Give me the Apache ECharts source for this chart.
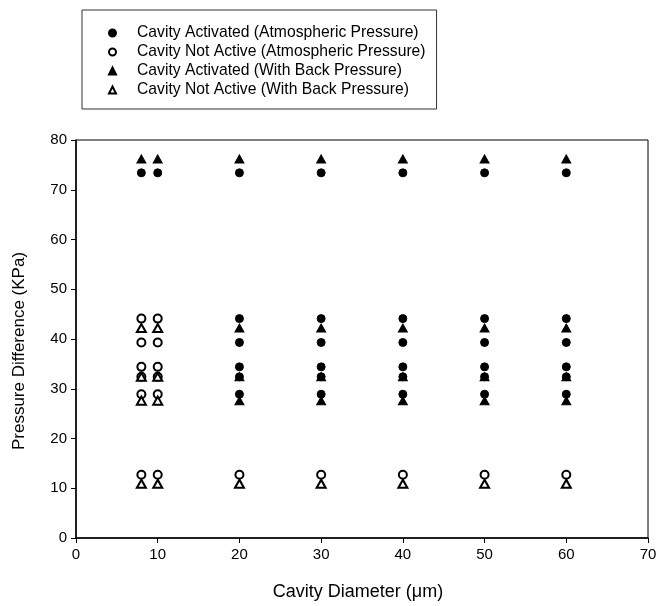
<!DOCTYPE html>
<html><head><meta charset="utf-8">
<script src="https://cdn.jsdelivr.net/npm/echarts@6/dist/echarts.min.js"></script>
<style>html,body{margin:0;padding:0;background:#fff}#c{width:666px;height:606px}</style>
</head><body><div id="c"></div>
<script>
// Data
const diametersNarrow = [8, 10];
const diametersWide = [20, 30, 40, 50, 60];
const activatedAtmNarrow = [73.4];
const activatedAtmWide = [73.4, 44.1, 39.3, 34.4, 32.4, 28.9];
const notActiveAtmNarrow = [44.1, 39.3, 34.4, 32.4, 28.9, 12.7];
const notActiveAtmWide = [12.7];
const activatedBackNarrow = [76.2];
const activatedBackWide = [76.2, 42.2, 32.4, 27.6];
const notActiveBackNarrow = [42.2, 32.4, 27.6, 10.9];
const notActiveBackWide = [10.9];
const seriesNames = [
  'Cavity Activated (Atmospheric Pressure)',
  'Cavity Not Active (Atmospheric Pressure)',
  'Cavity Activated (With Back Pressure)',
  'Cavity Not Active (With Back Pressure)'
];
const xTicks = [0, 10, 20, 30, 40, 50, 60, 70];
const yTicks = [0, 10, 20, 30, 40, 50, 60, 70, 80];

function pts(groups) {
  const out = [];
  groups.forEach(([xs, ys]) => xs.forEach(x => ys.forEach(y => out.push([x, y]))));
  return out;
}
const FONT = 'Liberation Sans, Arial, sans-serif';
const chart = echarts.init(document.getElementById('c'));
const symbols = ['circle', 'emptyCircle', 'triangle', 'emptyTriangle'];
const dataSets = [
  pts([[diametersNarrow, activatedAtmNarrow], [diametersWide, activatedAtmWide]]),
  pts([[diametersNarrow, notActiveAtmNarrow], [diametersWide, notActiveAtmWide]]),
  pts([[diametersNarrow, activatedBackNarrow], [diametersWide, activatedBackWide]]),
  pts([[diametersNarrow, notActiveBackNarrow], [diametersWide, notActiveBackWide]])
];
chart.setOption({
  animation: false,
  backgroundColor: '#fff',
  legend: {
    orient: 'vertical', left: 82, top: 10,
    padding: [15, 11, 11, 26],
    borderColor: '#333', borderWidth: 1,
    itemWidth: 7, itemHeight: 7, itemGap: 3,
    textStyle: { fontFamily: FONT, fontSize: 15.7, color: '#000', padding: [0, 0, 0, 16], lineHeight: 16 },
    data: seriesNames.map((n, i) => ({ name: n, icon: symbols[i] }))
  },
  grid: { left: 76, top: 140, right: 18, bottom: 68, show: true, borderColor: '#000', borderWidth: 1 },
  xAxis: {
    type: 'value', min: 0, max: 70, interval: 10,
    name: 'Cavity Diameter (\u03bcm)', nameLocation: 'middle', nameGap: 45,
    nameTextStyle: { fontFamily: FONT, fontSize: 18, color: '#000', padding: [0, 8, 0, 0] },
    axisLine: { lineStyle: { color: '#000', width: 1.5 } },
    axisTick: { inside: false, length: 5, lineStyle: { color: '#000' } },
    axisLabel: { fontFamily: FONT, fontSize: 15, color: '#000', margin: 9 },
    splitLine: { show: false }
  },
  yAxis: {
    type: 'value', min: 0, max: 80, interval: 10,
    name: 'Pressure Difference (KPa)', nameLocation: 'middle', nameGap: 48,
    nameTextStyle: { fontFamily: FONT, fontSize: 17, color: '#000', padding: [0, 24, 0, 0] },
    axisLine: { show: true, lineStyle: { color: '#000', width: 1.5 } },
    axisTick: { show: true, inside: false, length: 5, lineStyle: { color: '#000' } },
    axisLabel: { fontFamily: FONT, fontSize: 15, color: '#000', margin: 9 },
    splitLine: { show: false }
  },
  series: seriesNames.map((n, i) => ({
    name: n, type: 'scatter', symbol: symbols[i],
    symbolSize: i < 2 ? 8 : [9, 8],
    itemStyle: { color: '#000', borderColor: '#000', borderWidth: 1, opacity: 1 },
    data: dataSets[i], z: 2 + i
  }))
});
</script></body></html>
